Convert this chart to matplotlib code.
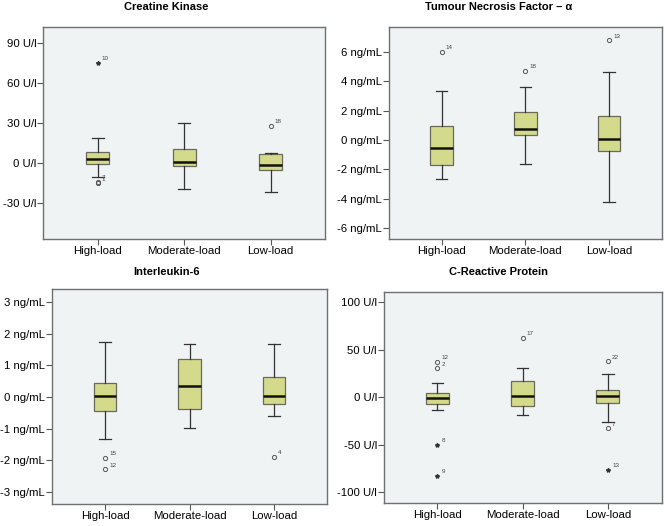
import matplotlib

matplotlib.use("Agg")
import matplotlib.pyplot as plt

plt.rcParams.update({
    "font.family": ["Liberation Sans", "DejaVu Sans"],
    "font.size": 8.2,
})

groups = ["High-load", "Moderate-load", "Low-load"]

# Creatine Kinase (U/l)
ck_q1 = [-1.0, -2.7, -5.7]
ck_med = [3.0, 0.8, -2.0]
ck_q3 = [8.0, 10.5, 6.5]
ck_lo = [-10.5, -19.7, -21.7]
ck_hi = [18.5, 30.0, 7.5]
ck_out = [(0, 75.0, "10", True), (0, -14.5, "7", False), (0, -15.5, "1", False),
          (2, 27.5, "18", False)]
ck_ticks = [-30, 0, 30, 60, 90]

# Tumour Necrosis Factor alpha (ng/mL)
tnf_q1 = [-1.7, 0.32, -0.73]
tnf_med = [-0.55, 0.73, 0.04]
tnf_q3 = [0.98, 1.9, 1.64]
tnf_lo = [-2.65, -1.64, -4.23]
tnf_hi = [3.36, 3.6, 4.66]
tnf_out = [(0, 6.0, "14", False), (1, 4.73, "18", False), (2, 6.8, "13", False)]
tnf_ticks = [-6, -4, -2, 0, 2, 4, 6]

# Interleukin-6 (ng/mL)
il6_q1 = [-0.44, -0.37, -0.21]
il6_med = [0.03, 0.34, 0.04]
il6_q3 = [0.45, 1.19, 0.64]
il6_lo = [-1.34, -0.98, -0.59]
il6_hi = [1.74, 1.66, 1.68]
il6_out = [(0, -1.92, "15", False), (0, -2.28, "12", False), (2, -1.88, "4", False)]
il6_ticks = [-3, -2, -1, 0, 1, 2, 3]

# C-Reactive Protein (U/l)
crp_q1 = [-7.0, -9.5, -6.0]
crp_med = [-0.5, 1.0, 1.0]
crp_q3 = [4.9, 17.5, 7.4]
crp_lo = [-13.0, -19.0, -25.6]
crp_hi = [14.7, 30.5, 24.5]
crp_out = [(0, 37.5, "12", False), (0, 30.5, "2", False), (0, -50.0, "8", True),
           (0, -83.0, "9", True), (1, 63.0, "17", False), (2, 38.0, "22", False),
           (2, -32.6, "7", False), (2, -76.5, "13", True)]
crp_ticks = [-100, -50, 0, 50, 100]

panels = [
    ("Creatine Kinase", "U/l", ck_q1, ck_med, ck_q3, ck_lo, ck_hi, ck_out, ck_ticks,
     (-57, 102), [0.065, 0.546, 0.424, 0.403], 0.25, 20),
    ("Tumour Necrosis Factor \u2013 \u03b1", "ng/mL", tnf_q1, tnf_med, tnf_q3, tnf_lo, tnf_hi,
     tnf_out, tnf_ticks, (-6.73, 7.72), [0.585, 0.546, 0.41, 0.403], 0.75, 20),
    ("Interleukin-6", "ng/mL", il6_q1, il6_med, il6_q3, il6_lo, il6_hi, il6_out, il6_ticks,
     (-3.37, 3.41), [0.078, 0.042, 0.414, 0.409], 0.25, 17),
    ("C-Reactive Protein", "U/l", crp_q1, crp_med, crp_q3, crp_lo, crp_hi, crp_out, crp_ticks,
     (-111, 111), [0.577, 0.044, 0.418, 0.401], 0.75, 20),
]

fig = plt.figure(figsize=(6.65, 5.26), dpi=100)

for title, unit, q1, med, q3, lo, hi, outs, ticks, ylim, rect, tx, gap in panels:
    ax = fig.add_axes(rect)
    ax.set_facecolor("#eff3f4")
    stats = []
    for i in range(len(groups)):
        stats.append({"q1": q1[i], "med": med[i], "q3": q3[i],
                      "whislo": lo[i], "whishi": hi[i], "fliers": []})
    ax.bxp(stats, positions=[1, 2, 3], widths=0.27, patch_artist=True,
           showfliers=False,
           boxprops=dict(facecolor="#d4da8c", edgecolor="#6a6a5a", linewidth=0.9),
           medianprops=dict(color="#111111", linewidth=1.8),
           whiskerprops=dict(color="#333333", linewidth=0.9),
           capprops=dict(color="#333333", linewidth=0.9))
    for g, val, lab, extreme in outs:
        if extreme:
            ax.plot(g + 1, val, marker="*", markersize=3.0, color="#333333",
                    linestyle="none")
        else:
            ax.plot(g + 1, val, marker="o", markersize=3.0, markerfacecolor="none",
                    markeredgecolor="#555555", markeredgewidth=0.7, linestyle="none")
        ax.annotate(lab, (g + 1, val), xytext=(3, 2), textcoords="offset points",
                    fontsize=4.5, color="#444444")
    ax.set_xlim(0.37, 3.63)
    ax.set_ylim(*ylim)
    ax.set_xticks([1, 2, 3])
    ax.set_xticklabels(groups)
    ax.set_yticks(ticks)
    ax.set_yticklabels([f"{t} {unit}" for t in ticks])
    ax.tick_params(length=4, width=0.8, color="#555555", labelsize=8.2, pad=1)
    for sp in ax.spines.values():
        sp.set_color("#707070")
        sp.set_linewidth(1.0)
    top = rect[1] + rect[3]
    fig.text(tx, top + gap / 526, title, ha="center", va="center",
             fontsize=8, fontweight="bold")

fig.savefig("out.png", dpi=100)
plt.close(fig)
